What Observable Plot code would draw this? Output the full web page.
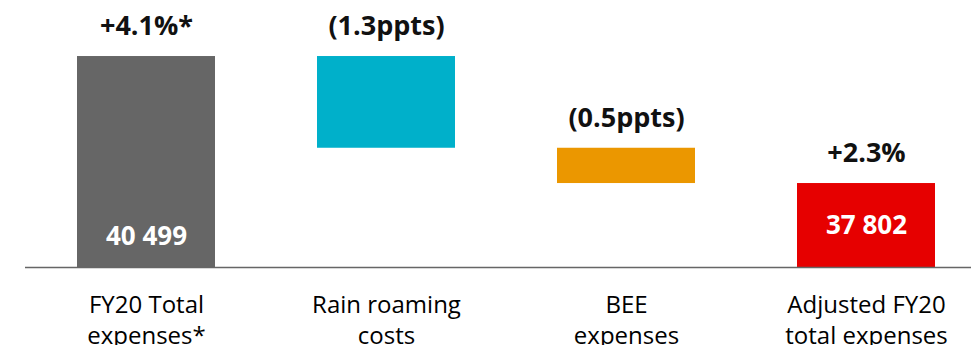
<!DOCTYPE html>
<html>
<head>
<meta charset="utf-8">
<script src="https://cdn.jsdelivr.net/npm/d3@7"></script>
<script src="https://cdn.jsdelivr.net/npm/@observablehq/plot@0.6"></script>
<style>
  html, body { margin: 0; padding: 0; background: #fff; }
</style>
</head>
<body>
<div id="chart"></div>
<script>
// Expense bridge: reported growth, one-off items (in percentage points), adjusted growth
const categories = ["FY20 Total\nexpenses*", "Rain roaming\ncosts", "BEE\nexpenses", "Adjusted FY20\ntotal expenses"];
const kinds = ["total", "delta", "delta", "total"];
const changes = [4.1, -1.3, -0.5, 2.3];
const changeLabels = ["+4.1%*", "(1.3ppts)", "(0.5ppts)", "+2.3%"];
const expenseLabels = ["40 499", "", "", "37 802"];
const colors = ["#666666", "#00B0CA", "#EB9700", "#E60000"];

// Vertical scale window (no axis is drawn, so the floor is arbitrary)
const yDomain = [1.11, 4.894];
const base = yDomain[0];

// Build the waterfall segments
let level = 0;
const rows = categories.map((c, i) => {
  let y1, y2;
  if (kinds[i] === "total") {
    y1 = base; y2 = changes[i]; level = changes[i];
  } else {
    y1 = level; y2 = level + changes[i]; level = y2;
  }
  return {
    category: c, y1, y2, top: Math.max(y1, y2),
    color: colors[i], change: changeLabels[i], expense: expenseLabels[i], index: i
  };
});

const chart = Plot.plot({
  width: 971,
  height: 345,
  marginLeft: 25,
  marginRight: 0,
  marginTop: 0,
  marginBottom: 78,
  style: { fontFamily: "'Open Sans', sans-serif", color: "#000", background: "#fff" },
  x: { domain: categories, padding: 0.427, paddingOuter: 0.1786, align: 0.593, label: null },
  y: { domain: yDomain, axis: null },
  marks: [
    Plot.barY(rows, { x: "category", y1: "y1", y2: "y2", fill: "color", inset: 0 }),
    Plot.ruleY([base], { stroke: "#666666", strokeWidth: 1.5 }),
    Plot.text(rows, {
      x: "category", y: "top", text: "change", dy: -30,
      fontSize: 27, fontWeight: "bold", fill: "#111"
    }),
    // Rand value inside the reported total bar
    Plot.text(rows.filter(d => d.index === 0), {
      x: "category", y: "y1", text: "expense", dy: -31,
      fontSize: 26, fontWeight: "bold", fill: "#fff"
    }),
    // Rand value centred in the adjusted total bar
    Plot.text(rows.filter(d => d.index === 3), {
      x: "category", y: d => (d.y1 + d.y2) / 2, text: "expense",
      fontSize: 26, fontWeight: "bold", fill: "#fff"
    }),
    Plot.axisX({
      tickSize: 0, tickPadding: 24, fontSize: 24, lineHeight: 1.29,
      label: null, fill: "#000", lineAnchor: "top"
    })
  ]
});

document.getElementById("chart").append(chart);
</script>
</body>
</html>
